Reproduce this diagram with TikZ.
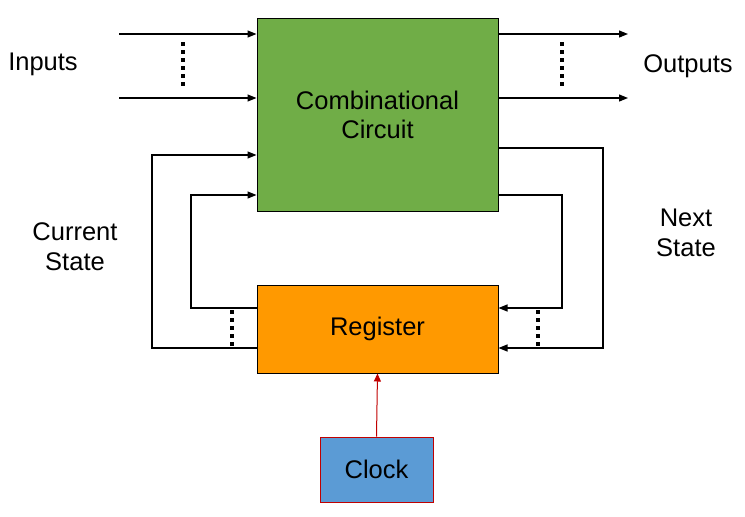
\documentclass[tikz,border=0pt]{standalone}
\usepackage{fontspec}
\setmainfont{Liberation Sans}
\usetikzlibrary{arrows.meta}
\definecolor{ccgreen}{HTML}{70AD47}
\definecolor{regorange}{HTML}{FF9900}
\definecolor{clkblue}{HTML}{5B9BD5}
\definecolor{clkred}{HTML}{C00000}
\begin{document}
\begin{tikzpicture}[x=1pt,y=-1pt,
  blk/.style={draw=black,line width=1pt,inner sep=0pt,align=center,font=\fontsize{25.5}{29}\selectfont},
  lbl/.style={align=center,font=\fontsize{25.5}{30}\selectfont},
  wire/.style={line width=1.2pt,-{Triangle[length=9pt,width=7pt]}},
  dotcol/.style={line width=3.6pt,dash pattern=on 3.6pt off 4.4pt}]
\useasboundingbox (0,0) rectangle (745,517);
\node[blk,fill=ccgreen,minimum width=241pt,minimum height=193pt] (cc) at (377.5,114.5) {Combinational\\Circuit};
\node[blk,fill=regorange,minimum width=241pt,minimum height=88pt] (reg) at (377.5,329) {Register};
\node[blk,fill=clkblue,draw=clkred,minimum width=113pt,minimum height=65pt] (clk) at (376.5,469.5) {Clock};
\coordinate (in1) at (119,34);
\coordinate (in2) at (119,98);
\coordinate (out1) at (628,34);
\coordinate (out2) at (628,98);
\draw[wire] (in1) -- (cc.west |- in1);
\draw[wire] (in2) -- (cc.west |- in2);
\draw[wire] (cc.east |- out1) -- (out1);
\draw[wire] (cc.east |- out2) -- (out2);
\draw[dotcol] (183,42) -- (183,87);
\draw[dotcol] (562,42) -- (562,87);
% feedback right
\coordinate (r1) at (603,148);
\coordinate (r2) at (562,195);
\draw[wire] (cc.east |- r1) -| (603,348) -- (reg.east |- 0,348);
\draw[wire] (cc.east |- r2) -| (562,308) -- (reg.east |- 0,308);
% feedback left
\draw[wire] (reg.west |- 0,348) -| (152,155) -- (cc.west |- 0,155);
\draw[wire] (reg.west |- 0,308) -| (191,195) -- (cc.west |- 0,195);
\draw[dotcol] (232,310) -- (232,347);
\draw[dotcol] (538,310) -- (538,347);
\draw[line width=1pt,draw=clkred,-{Triangle[length=8pt,width=7pt]},color=clkred] (clk.north) -- (reg.south);
\node[lbl] (inputs) at (43,64) {Inputs};
\node[lbl] (outputs) at (688,66) {Outputs};
\node[lbl] (cur) at (75,247) {Current\\State};
\node[lbl] (nxt) at (686,233) {Next\\State};
\end{tikzpicture}
\end{document}
